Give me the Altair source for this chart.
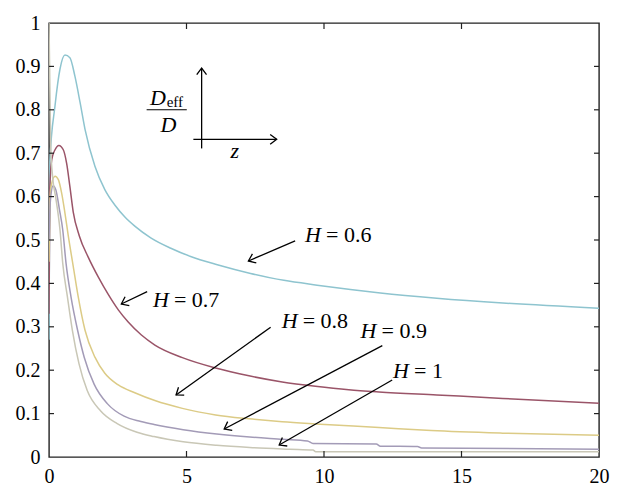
import math
import altair as alt
import pandas as pd

# ---------------- data ----------------
series_names = ["H = 0.6", "H = 0.7", "H = 0.8", "H = 0.9", "H = 1"]
series_colors = ["#8ec4cf", "#9a5468", "#dccb86", "#a39bb7", "#c9c7b6"]

z_06 = [0, 0.03, 0.22, 0.4, 0.58, 0.76, 0.94, 1.13, 1.31, 1.67, 2.03, 2.4, 2.76, 3.12, 3.7, 4.43, 5.15, 6.12, 7.33, 8.54, 9.75, 10.96, 12.05, 14.1, 16.5, 20]
v_06 = [0.27, 0.68, 0.81, 0.894, 0.926, 0.92, 0.878, 0.817, 0.755, 0.67, 0.616, 0.58, 0.553, 0.532, 0.505, 0.481, 0.462, 0.443, 0.423, 0.407, 0.396, 0.386, 0.378, 0.366, 0.355, 0.343]

z_07 = [0, 0.03, 0.1, 0.22, 0.36, 0.52, 0.64, 0.76, 0.88, 1.1, 1.43, 1.79, 2.16, 2.52, 2.88, 3.36, 3.85, 4.85, 6.06, 7.27, 8.48, 9.69, 10.9, 12.0, 14.1, 16.5, 20]
v_07 = [0.33, 0.62, 0.685, 0.708, 0.718, 0.708, 0.677, 0.623, 0.565, 0.51, 0.46, 0.415, 0.374, 0.339, 0.311, 0.281, 0.258, 0.229, 0.205, 0.187, 0.173, 0.163, 0.155, 0.15, 0.143, 0.135, 0.124]

z_08 = [0, 0.04, 0.1, 0.22, 0.34, 0.46, 0.58, 0.7, 0.88, 1.06, 1.31, 1.67, 2.03, 2.52, 3.12, 3.85, 4.85, 6.06, 7.27, 8.48, 9.69, 12.0, 13.9, 16.5, 20]
v_08 = [0.45, 0.6, 0.631, 0.647, 0.639, 0.608, 0.562, 0.51, 0.44, 0.37, 0.292, 0.23, 0.193, 0.166, 0.148, 0.13, 0.112, 0.097, 0.088, 0.081, 0.076, 0.068, 0.061, 0.055, 0.05]

z_09 = [0, 0.05, 0.15, 0.25, 0.38, 0.5, 0.62, 0.8, 1.04, 1.28, 1.64, 2.12, 2.73, 3.34, 3.82, 4.88, 6.1, 7.3, 8.5, 9.4, 9.6, 11.9, 12.05, 13.4, 13.55, 20]
v_09 = [0.5, 0.59, 0.625, 0.615, 0.57, 0.523, 0.446, 0.369, 0.292, 0.23, 0.168, 0.123, 0.094, 0.082, 0.075, 0.063, 0.053, 0.046, 0.041, 0.037, 0.031, 0.03, 0.025, 0.024, 0.021, 0.018]

z_10 = [0, 0.06, 0.14, 0.24, 0.4, 0.5, 0.67, 0.85, 1.09, 1.39, 1.88, 2.48, 3.2, 3.82, 4.88, 6.1, 7.3, 8.76, 9.6, 9.7, 20]
v_10 = [1.0, 0.72, 0.64, 0.6, 0.523, 0.446, 0.369, 0.292, 0.215, 0.153, 0.106, 0.077, 0.057, 0.047, 0.035, 0.027, 0.022, 0.018, 0.016, 0.012, 0.012]

series_z = [z_06, z_07, z_08, z_09, z_10]
series_v = [v_06, v_07, v_08, v_09, v_10]

x_tick_values = [0, 5, 10, 15, 20]
y_tick_values = [0, 0.1, 0.2, 0.3, 0.4, 0.5, 0.6, 0.7, 0.8, 0.9, 1]
x_inner_ticks = [5, 10, 15]
y_inner_ticks = [0.1, 0.2, 0.3, 0.4, 0.5, 0.6, 0.7, 0.8, 0.9]

# annotation labels "H = ..." (left edge, baseline) in data units
label_values = ["= 0.6", "= 0.7", "= 0.8", "= 0.9", "= 1"]
label_z = [9.31, 3.78, 8.46, 11.33, 12.51]
label_v = [0.496, 0.346, 0.297, 0.274, 0.182]

# arrows (start -> tip) in data units
arrow_z1 = [8.95, 3.57, 8.06, 12.12, 12.48, 5.55, 5.25]
arrow_v1 = [0.498, 0.381, 0.299, 0.2565, 0.1774, 0.711, 0.732]
arrow_z2 = [7.25, 2.63, 4.62, 6.37, 8.37, 5.55, 8.28]
arrow_v2 = [0.4516, 0.3525, 0.1429, 0.0645, 0.0276, 0.896, 0.732]

# inset "D_eff / D  vs  z" key
frac_z1, frac_z2, frac_v = 3.55, 5.01, 0.80

# ---------------- layout ----------------
W, HGT = 550, 434
FONT = "Liberation Serif"

rows = []
for name, zs, vs in zip(series_names, series_z, series_v):
    for i, (z, v) in enumerate(zip(zs, vs)):
        rows.append({"H": name, "z": z, "v": v, "i": i})
df = pd.DataFrame(rows)

x_scale = alt.Scale(domain=[0, 20], nice=False, zero=False)
y_scale = alt.Scale(domain=[0, 1], nice=False, zero=False)
X_AX = alt.Axis(values=x_tick_values, title=None, ticks=False, domain=False, grid=False,
                labelFont=FONT, labelFontSize=20, labelColor="black", labelPadding=9,
                labelFlush=False)
Y_AX = alt.Axis(values=y_tick_values, format="~g", title=None, ticks=False, domain=False,
                grid=False, labelFont=FONT, labelFontSize=20, labelColor="black",
                labelPadding=9, labelFlush=False)


def X(f):
    return alt.X(f, scale=x_scale, axis=X_AX)


def Y(f):
    return alt.Y(f, scale=y_scale, axis=Y_AX)


lines = alt.Chart(df).mark_line(strokeWidth=1.5, clip=True, interpolate="monotone").encode(
    x=X("z:Q"), y=Y("v:Q"),
    color=alt.Color("H:N", scale=alt.Scale(domain=series_names, range=series_colors), legend=None),
    order="i:Q",
)

yt = pd.DataFrame({"v": y_inner_ticks})
xt = pd.DataFrame({"z": x_inner_ticks})
tick_style = dict(color="#222", strokeWidth=1.2)
ticks_left = alt.Chart(yt).mark_rule(**tick_style).encode(
    y=Y("v:Q"), x=alt.value(0), x2=alt.value(5))
ticks_right = alt.Chart(yt).mark_rule(**tick_style).encode(
    y=Y("v:Q"), x=alt.value(W - 5), x2=alt.value(W))
ticks_bottom = alt.Chart(xt).mark_rule(**tick_style).encode(
    x=X("z:Q"), y=alt.value(HGT), y2=alt.value(HGT - 6))
ticks_top = alt.Chart(xt).mark_rule(**tick_style).encode(
    x=X("z:Q"), y=alt.value(0), y2=alt.value(6))

# arrows
adf = pd.DataFrame({"z1": arrow_z1, "v1": arrow_v1, "z2": arrow_z2, "v2": arrow_v2})
px_per_z = W / 20.0
px_per_v = HGT / 1.0
adf["ang"] = [
    math.degrees(math.atan2((b - a) * px_per_z, (d - c) * px_per_v)) % 360
    for a, b, c, d in zip(adf.z1, adf.z2, adf.v1, adf.v2)
]
arrow_lines = alt.Chart(adf).mark_rule(color="black", strokeWidth=1.3).encode(
    x=X("z1:Q"), x2="z2:Q", y=Y("v1:Q"), y2="v2:Q")
arrow_heads = alt.Chart(adf).mark_point(
    shape="M -0.75 1 L 0 0 L 0.75 1", filled=False, color="black",
    strokeWidth=1.3, size=170, opacity=1).encode(
    x=X("z2:Q"), y=Y("v2:Q"), angle=alt.Angle("ang:Q", scale=None))

# H labels
ldf = pd.DataFrame({"z": label_z, "v": label_v, "t": label_values})
h_italic = alt.Chart(ldf).mark_text(
    text="H", font=FONT, fontSize=22, fontStyle="italic", align="left",
    baseline="alphabetic", color="black").encode(x=X("z:Q"), y=Y("v:Q"))
h_rest = alt.Chart(ldf).mark_text(
    font=FONT, fontSize=22, align="left", baseline="alphabetic", color="black", dx=21).encode(
    x=X("z:Q"), y=Y("v:Q"), text="t:N")

# inset key texts
key_left = pd.DataFrame({"z": [3.67], "v": [0.811], "t": ["D"]})
key_center = pd.DataFrame({"z": [4.34, 6.76], "v": [0.749, 0.689], "t": ["D", "z"]})
key_italic_left = alt.Chart(key_left).mark_text(
    font=FONT, fontSize=22, fontStyle="italic", align="left", baseline="alphabetic",
    color="black").encode(x=X("z:Q"), y=Y("v:Q"), text="t:N")
key_italic_center = alt.Chart(key_center).mark_text(
    font=FONT, fontSize=22, fontStyle="italic", align="center", baseline="alphabetic",
    color="black").encode(x=X("z:Q"), y=Y("v:Q"), text="t:N")
edf = pd.DataFrame({"z": [4.28], "v": [0.806], "t": ["eff"]})
key_sub = alt.Chart(edf).mark_text(
    font=FONT, fontSize=15, align="left", baseline="alphabetic", color="black").encode(
    x=X("z:Q"), y=Y("v:Q"), text="t:N")
fdf = pd.DataFrame({"z1": [frac_z1], "z2": [frac_z2], "v": [frac_v]})
frac_line = alt.Chart(fdf).mark_rule(color="black", strokeWidth=1.1).encode(
    x=X("z1:Q"), x2="z2:Q", y=Y("v:Q"))

chart = alt.layer(
    lines, ticks_left, ticks_right, ticks_bottom, ticks_top,
    arrow_lines, arrow_heads, h_italic, h_rest,
    key_italic_left, key_italic_center, key_sub, frac_line,
).properties(
    width=W, height=HGT,
    autosize=alt.AutoSizeParams(type="none"),
    padding={"left": 41, "top": 15, "right": 17, "bottom": 32},
    background="white",
).configure_view(stroke="#222", strokeWidth=1.4)

chart.save("out.html", embed_options={"renderer": "svg", "actions": False})
